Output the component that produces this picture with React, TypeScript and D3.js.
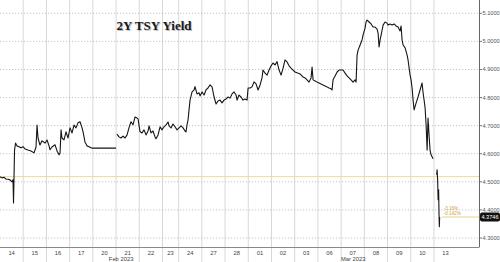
import React from "react";
import * as d3 from "d3";

// Trading-session day labels and session lengths (hours)
const dayLabels = ["14","15","16","17","20","21","22","23","24","27","28","01","02","03","06","07","08","09","10","13"];
const sessionHours = [23,23,23,23,23,23,23,16,23,23,23,23,23,23,23,23,23,23,23,23];
const monthLabels: [string, number][] = [["Feb 2023", 120], ["Mar 2023", 350]];
const yTicks = [4.3, 4.4, 4.5, 4.6, 4.7, 4.8, 4.9, 5.0, 5.1];
const prevClose = 4.5185;
const lastValue = 4.3746;
const changeLabels = ["-3.16%", "-0.142%"];

// [hours since 14 Feb session start, 2Y yield]; null = gap
const ticks: [number, number | null][] = [
  [0,4.518],[2,4.514],[4,4.516],[5.9,4.510],[7.9,4.509],[9.9,4.507],[11.9,4.500],[12.9,4.507],[13.4,4.425],[13.9,4.518],[14.4,4.613],[15.4,4.638],[16.8,4.628],[18.8,4.625],[20.8,4.621],[22.8,4.625],
  [24.8,4.617],[27.7,4.613],[30.7,4.610],[33.7,4.603],[35.7,4.624],[36.7,4.702],[37.7,4.656],[39.6,4.631],[41.6,4.646],[44.6,4.638],[46.6,4.649],[48.6,4.628],
  [49.6,4.614],[51.5,4.624],[54.5,4.632],[56.5,4.610],[58.5,4.596],[59.5,4.603],[60.5,4.685],[61.4,4.656],[63.4,4.649],[65.4,4.678],[67.4,4.656],[69.4,4.692],
  [71.4,4.674],[73.3,4.702],[75.3,4.692],[77.3,4.710],[79.3,4.714],[81.3,4.692],[82.3,4.678],[84.2,4.642],[86.2,4.628],[88.2,4.625],[90.2,4.621],[92.2,4.620],[115,4.620],
  [115.4,null],
  [115.9,4.670],[117.9,4.660],[119.9,4.656],[121.9,4.663],[123.9,4.656],[125.9,4.667],[127.8,4.692],[129.8,4.714],[131.8,4.703],[133.8,4.731],[135.8,4.727],[136.8,4.724],
  [138.7,4.679],[140.7,4.674],[142.7,4.685],[144.7,4.667],[146.7,4.681],[147.7,4.699],[149.6,4.674],[151.6,4.681],[153.6,4.660],[154.6,4.653],[156.6,4.667],[158.6,4.696],[160.5,4.685],
  [162.5,4.696],[164.5,4.703],[166.5,4.713],[167.5,4.699],[169.5,4.692],[171.4,4.706],[173.4,4.696],[175.4,4.685],
  [177.4,4.692],[179.4,4.699],[181.4,4.692],[183.3,4.681],[184.3,4.678],[185.3,4.703],[186.3,4.720],[187.3,4.756],[188.3,4.791],[190.3,4.820],[192.3,4.827],[193.2,4.839],[195.2,4.813],[197.2,4.817],[198.2,4.806],[200.2,4.820],
  [202.2,4.809],[204.1,4.827],[206.1,4.834],[208.1,4.845],[210.1,4.838],[212.1,4.802],[214.1,4.777],[216,4.788],[218,4.791],[220,4.781],[222,4.791],
  [224,4.795],[226,4.802],[227.9,4.798],[229.9,4.813],[231.9,4.820],[233.9,4.809],[234.9,4.791],[236.8,4.809],[238.8,4.802],[240.8,4.791],[242.8,4.795],[244.8,4.791],
  [245.8,4.834],[247.8,4.834],[249.7,4.838],[251.7,4.856],[253.7,4.849],[255.7,4.827],[257.7,4.845],[259.6,4.870],[260.6,4.898],[262.6,4.887],[264.6,4.880],[266.6,4.898],[268.6,4.913],
  [270.5,4.923],[272.5,4.916],[274.5,4.928],[276.5,4.898],[278.5,4.880],[280.5,4.905],[282.4,4.934],[284.4,4.927],[286.4,4.913],[288.4,4.905],[290.4,4.898],[292.3,4.891],
  [294.3,4.888],[297.3,4.884],[300.3,4.873],[302.3,4.870],[304.2,4.863],[306.2,4.855],[308.2,4.870],[309.2,4.909],[310.2,4.863],[312.2,4.859],[314.1,4.855],
  [316.1,4.852],[318.1,4.848],[320.1,4.845],[322.1,4.841],[324.1,4.838],[326,4.834],[328,4.831],[329,4.827],[330,4.863],[332,4.877],[334,4.891],[335.9,4.898],[337.9,4.898],
  [339.9,4.898],[341.9,4.887],[343.9,4.877],[345.9,4.870],[347.8,4.863],[349.8,4.855],[351.8,4.863],[352.8,4.855],[353.8,4.951],[354.8,4.969],[356.8,4.987],[358.7,5.005],[359.7,5.022],[361.7,5.047],
  [362.7,5.069],[363.7,5.076],[365.7,5.069],[367.7,5.062],[369.6,5.051],[371.6,5.051],[373.6,5.044],[374.6,5.030],[375.6,4.980],[376.6,5.005],[377.6,5.022],[379.6,5.058],[381.5,5.069],[383.5,5.065],
  [384.5,5.058],[386.5,5.062],[388.5,5.058],[390.5,5.062],[392.4,5.055],[394.4,5.051],[396.4,5.037],[397.4,5.055],[398.4,5.005],[399.4,4.987],[401.4,4.977],[403.3,4.952],[404.3,4.934],[405.3,4.906],[406.3,4.881],
  [407.3,4.863],[408.3,4.834],[409.3,4.791],[410.3,4.756],[412.3,4.781],[413.2,4.791],[414.2,4.802],[416.2,4.827],[418.2,4.852],[419.2,4.817],[420.2,4.791],[421.2,4.763],[422.2,4.702],[423.2,4.613],[424.1,4.727],[425.1,4.667],[426.1,4.613],[427.1,4.596],[428.1,4.589],[429.1,4.582],
  [430.5,null],
  [432.6,4.525],[433.1,4.543],[433.6,4.507],[434.1,4.436],[434.6,4.472],[435.0,4.383],[435.3,4.340],[435.6,4.3746],
];

const W = 500, H = 262;
const plotRight = 479, plotBottom = 247;

export default function App() {
  const totalHours = 474.6;
  const x = d3.scaleLinear().domain([0, totalHours]).range([0, plotRight]);
  const y = d3.scaleLinear().domain([4.3, 5.1]).range([238, 13.3]);

  const bounds = d3.cumsum(sessionHours);
  const starts = [0, ...Array.from(bounds).slice(0, -1)];

  const line = d3.line<[number, number | null]>()
    .defined(d => d[1] != null)
    .x(d => x(d[0]))
    .y(d => y(d[1] as number));

  const lastX = x(ticks[ticks.length - 1][0]);

  return (
    <svg width={W} height={H} style={{ position: "absolute", left: 0, top: 0, background: "#fff" }}
      fontFamily="Liberation Sans, Arial, sans-serif">
      <rect x={0} y={0} width={W} height={H} fill="#fff" />
      {/* vertical day gridlines */}
      {Array.from(bounds).slice(0, -1).map((b, i) => (
        <line key={"v" + i} x1={x(b)} x2={x(b)} y1={0} y2={H} stroke="#d9d9d9" strokeWidth={1} />
      ))}
      {/* horizontal dotted gridlines */}
      {yTicks.map(t => (
        <line key={"h" + t} x1={0} x2={plotRight} y1={y(t)} y2={y(t)} stroke="#b5b5b5" strokeWidth={0.8} strokeDasharray="1.2,1.8" />
      ))}
      {/* previous close line */}
      <line x1={0} x2={plotRight} y1={y(prevClose)} y2={y(prevClose)} stroke="#e6dc9a" strokeWidth={1} />
      {/* last price line */}
      <line x1={lastX + 2} x2={plotRight} y1={y(lastValue)} y2={y(lastValue)} stroke="#e0c872" strokeWidth={0.8} />
      {/* data */}
      <path d={line(ticks) || ""} fill="none" stroke="#151515" strokeWidth={1.1} strokeLinejoin="round" />
      {/* axes */}
      <line x1={plotRight + 0.5} x2={plotRight + 0.5} y1={0} y2={plotBottom} stroke="#666" strokeWidth={1} />
      <line x1={0} x2={plotRight + 0.5} y1={plotBottom + 0.5} y2={plotBottom + 0.5} stroke="#888" strokeWidth={1} />
      {yTicks.map(t => (
        <g key={"yt" + t}>
          <line x1={plotRight + 1} x2={plotRight + 3} y1={y(t)} y2={y(t)} stroke="#555" strokeWidth={0.8} />
          <text x={plotRight + 3.5} y={y(t) + 2} fontSize={5.6} fill="#555">{t.toFixed(4)}</text>
        </g>
      ))}
      {/* day labels */}
      {dayLabels.map((d, i) => (
        <text key={"d" + i} x={x(starts[i] + sessionHours[i] / 2)} y={254.5} fontSize={5.8} fill="#444" textAnchor="middle">{d}</text>
      ))}
      {monthLabels.map(([m, h]) => (
        <text key={m} x={x(h)} y={260.5} fontSize={5.8} fill="#444" textAnchor="middle">{m}</text>
      ))}
      {/* change labels */}
      <text x={lastX + 4} y={209.5} fontSize={4.6} fill="#c9a640">{changeLabels[0]}</text>
      <text x={lastX + 4} y={214.5} fontSize={4.6} fill="#c9a640">{changeLabels[1]}</text>
      {/* last value box */}
      <rect x={plotRight + 1} y={y(lastValue) - 4.5} width={20} height={9} rx={2} fill="#111" />
      <text x={plotRight + 11} y={y(lastValue) + 2} fontSize={5.6} fill="#fff" textAnchor="middle">{lastValue.toFixed(4)}</text>
      {/* title */}
      <text x={155} y={30.5} fontSize={13} fontWeight="bold" fontFamily="Liberation Serif, Times New Roman, serif" fill="#999" textAnchor="middle" opacity={0.6}>2Y TSY Yield</text>
      <text x={154} y={30} fontSize={13} fontWeight="bold" fontFamily="Liberation Serif, Times New Roman, serif" fill="#1a1a1a" textAnchor="middle">2Y TSY Yield</text>
    </svg>
  );
}
